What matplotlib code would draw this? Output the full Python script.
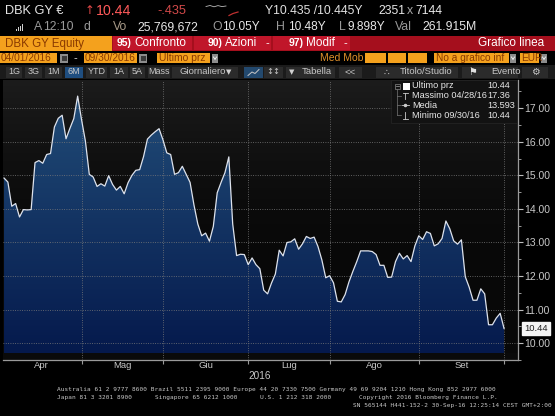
import numpy as np
import matplotlib
matplotlib.use("Agg")
import matplotlib.pyplot as plt
from matplotlib.patches import Rectangle, Polygon
from matplotlib.transforms import blended_transform_factory

# ---------------- data ----------------
month_labels = ["Apr", "Mag", "Giu", "Lug", "Ago", "Set"]
month_days = [21, 21, 22, 21, 23, 22]
prices = [
    14.92, 14.80, 14.08, 14.16, 13.76, 13.98, 13.97, 13.98, 15.38, 15.44,
    15.36, 15.62, 15.65, 16.44, 16.70, 16.79, 16.09, 16.40, 16.69, 17.36,
    16.66, 16.02, 15.03, 14.95, 14.67, 14.75, 14.68, 14.99, 14.73, 14.56,
    14.67, 14.45, 14.78, 15.00, 15.15, 15.17, 15.56, 16.08, 16.20, 16.30,
    16.39, 16.06, 15.67, 15.62, 15.03, 15.08, 15.27, 15.03, 14.79, 14.12,
    13.55, 13.20, 13.28, 13.04, 13.48, 14.48, 14.79, 15.08, 15.55, 13.55,
    12.61, 12.65, 12.64, 12.34, 12.54, 12.34, 12.22, 11.58, 11.47, 11.79,
    12.06, 12.77, 12.60, 13.00, 13.02, 13.11, 12.80, 12.96, 13.18, 13.12,
    13.16, 12.88, 12.48, 11.95, 12.01, 11.80, 11.25, 11.23, 11.45, 11.83,
    12.14, 12.43, 12.75, 12.75, 12.75, 12.73, 12.64, 12.32, 12.32, 11.96,
    11.97, 12.43, 12.68, 12.51, 12.61, 12.43, 12.90, 13.20, 13.09, 13.32,
    13.27, 12.90, 12.96, 13.12, 13.64, 13.41, 13.05, 12.95, 13.08, 11.98,
    11.67, 11.28, 11.28, 11.62, 11.47, 10.55, 10.55, 10.75, 10.89, 10.44,
]
y_ticks = [10, 11, 12, 13, 14, 15, 16, 17]
y_tick_labels = ["10.00", "11.00", "12.00", "13.00", "14.00", "15.00", "16.00", "17.00"]
year_label = "2016"
legend_labels = ["Ultimo prz", "Massimo 04/28/16", "Media", "Minimo 09/30/16"]
legend_values = ["10.44", "17.36", "13.593", "10.44"]
last_price = 10.44
last_price_label = "10.44"

# ---------------- figure ----------------
W, H = 555, 416
plt.rcParams["font.family"] = ["Liberation Sans", "DejaVu Sans"]
fig = plt.figure(figsize=(W / 100, H / 100), dpi=100, facecolor="black")

L, R, T, B = 3, 518, 80, 360
ax = fig.add_axes([L / W, 1 - B / H, (R - L) / W, (B - T) / H])
ax.set_facecolor("#0a0a0a")

n = len(prices)
x = np.arange(n)
ends = np.cumsum(month_days) - 1
starts = np.r_[-0.5, ends[:-1]]
mids = (starts + ends) / 2.0
xl = (-0.26, n - 1 + 3.6)
yl = (9.70, 17.84)

# background gradient
vv = np.linspace(yl[0], yl[1], 400)
t = np.clip((vv - 12.8) / (yl[1] - 12.8), 0, 1)
g = 0.035 + 0.075 * t ** 1.5
bg = np.repeat(g[:, None, None], 3, axis=2)
ax.imshow(bg, extent=(xl[0], xl[1], yl[0], yl[1]), origin="lower",
          aspect="auto", zorder=0, interpolation="bilinear")

# gradient fill under line
t2 = np.clip((vv - yl[0]) / (17.4 - yl[0]), 0, 1)
top = np.array([0.13, 0.30, 0.47])
bot = np.array([0.02, 0.10, 0.30])
fg = bot[None, :] + (top - bot)[None, :] * t2[:, None]
im = ax.imshow(fg[:, None, :], extent=(xl[0], xl[1], yl[0], yl[1]), origin="lower",
               aspect="auto", zorder=1, interpolation="bilinear")
poly = Polygon(np.column_stack([np.r_[x[0], x, x[-1]], np.r_[yl[0], prices, yl[0]]]),
               closed=True, facecolor="none", edgecolor="none")
ax.add_patch(poly)
im.set_clip_path(poly)

ax.plot(x, prices, color="#dde2ec", lw=0.9, zorder=3)

ax.set_xlim(*xl)
ax.set_ylim(*yl)
ax.set_xticks(ends)
ax.set_yticks(y_ticks)
ax.set_yticklabels(y_tick_labels)
ax.set_yticks(np.arange(9.5, 18.0, 0.5), minor=True)
ax.set_axisbelow(False)
ax.grid(True, which="major", color="#7a7a7a", linestyle=(0, (1, 1.8)), linewidth=0.6)
ax.yaxis.tick_right()
ax.tick_params(axis="y", which="major", length=3.5, width=0.8, colors="#bdbdbd",
               labelsize=7.5, pad=1, direction="out")
ax.tick_params(axis="y", which="minor", length=2, width=0.7, colors="#9a9a9a", direction="out")
ax.tick_params(axis="x", length=3, width=0.8, colors="#9a9a9a", labelbottom=False, direction="out")
for s in ("top", "left"):
    ax.spines[s].set_visible(False)
for s in ("right", "bottom"):
    ax.spines[s].set_color("#9a9a9a")
    ax.spines[s].set_linewidth(0.9)
for lab in ax.get_yticklabels():
    lab.set_color("#c8c8c8")

# ---------------- overlay (pixel coords) ----------------
ov = fig.add_axes([0, 0, 1, 1], zorder=10)
ov.set_xlim(0, W)
ov.set_ylim(H, 0)
ov.axis("off")
ov.patch.set_alpha(0)


def rect(x0, y0, x1, y1, color, ec="none", lw=0.0, z=1):
    ov.add_patch(Rectangle((x0, y0), x1 - x0, y1 - y0, facecolor=color,
                           edgecolor=ec, linewidth=lw, zorder=z))


def txt(xp, yp, s, color="#e8e8e8", size=8, ha="left", fam=None, weight="normal"):
    kw = {}
    if fam:
        kw["family"] = fam
    ov.text(xp, yp, s, color=color, fontsize=size, ha=ha, va="center",
            weight=weight, zorder=5, **kw)


# month labels & year
tr = blended_transform_factory(ax.transData, ov.transData)
for m, lab in zip(mids, month_labels):
    ax.text(m, 366, lab, transform=tr, color="#c8c8c8", fontsize=6.8,
            ha="center", va="center", clip_on=False)
ax.text((xl[0] + ends[-1]) / 2 + 1.5, 376, year_label, transform=tr, color="#c8c8c8",
        fontsize=7.2, ha="center", va="center", clip_on=False)

# ---- header row 1 ----
txt(5, 11, "DBK GY \u20ac", "#e6e6e6", 9.2)
txt(85, 11, "\u2191", "#e04848", 8.5, fam="DejaVu Sans")
txt(96, 11, "10.44", "#ff5a5a", 10.2)
txt(157, 11, "-.435", "#d44a4a", 9.2)
ov.plot([206, 210, 214, 218, 222, 226], [6.5, 5.5, 6.8, 5.6, 6.6, 6.0], color="#bbbbbb", lw=0.6, zorder=5)
ov.plot([229, 233, 238], [15.5, 13.5, 12.0], color="#c03030", lw=0.9, zorder=5)
txt(265, 11, "Y10.435 /10.445Y", "#e0e0e0", 8.8)
txt(378, 11, "2351", "#e8e8e8", 8.8)
txt(407, 11, "x", "#a8a8a8", 8.8)
txt(415, 11, "7144", "#e8e8e8", 8.8)

# ---- header row 2 ----
for i, hgt in enumerate([2, 3.5, 5, 6.5]):
    rect(16 + i * 2, 30.5 - hgt, 17.3 + i * 2, 30.5, "#d0d0d0", z=4)
txt(34, 27, "A", "#9a9a9a", 8.8)
txt(43, 27, "12:10", "#9a9a9a", 8.8)
txt(83, 27, "d", "#9a9a9a", 8.8)
txt(113, 27, "Vo", "#a89a88", 8.8)
txt(137, 27, "25,769,672", "#e8e8e8", 8.8)
txt(212, 27, "O", "#9a9a9a", 8.8)
txt(222, 27, "10.05Y", "#e8e8e8", 8.6)
txt(276, 27, "H", "#9a9a9a", 8.8)
txt(288, 27, "10.48Y", "#e8e8e8", 8.6)
txt(339, 27, "L", "#9a9a9a", 8.8)
txt(347, 27, "9.898Y", "#e8e8e8", 8.6)
txt(395, 27, "Val", "#9a9a9a", 8.8)
txt(422, 27, "261.915M", "#e8e8e8", 8.8)

# ---- header row 3 (orange / red bar) ----
rect(0, 35.5, 112, 50.5, "#f4a11d")
txt(5, 43.5, "DBK GY Equity", "#8a3a00", 8.3)
rect(112, 35.5, W, 50.5, "#a50f1d")
for x0, x1 in [(113, 192), (194, 271), (273, 350)]:
    rect(x0, 36, x1, 50, "#c0162a")
txt(117, 43, "95)", "#ffffff", 7.5, weight="bold")
txt(134, 43, "Confronto", "#ffffff", 8.5)
txt(208, 43, "90)", "#ffffff", 7.5, weight="bold")
txt(225, 43, "Azioni", "#ffffff", 8.5)
txt(265, 43, "-", "#ffffff", 8)
txt(289, 43, "97)", "#ffffff", 7.5, weight="bold")
txt(306, 43, "Modif", "#ffffff", 8.5)
txt(343, 43, "-", "#ffffff", 8)
txt(544, 43.5, "Grafico linea", "#ffffff", 8.5, ha="right")


# ---- header row 4 ----
def cal(x0):
    rect(x0, 53.5, x0 + 8, 62.5, "#8c8c8c")
    rect(x0 + 1.5, 56, x0 + 6.5, 61, "#3a3a3a")


def dd(x0):
    rect(x0, 53.5, x0 + 6, 62.5, "#8c8c8c")
    ov.plot([x0 + 1.5, x0 + 3, x0 + 4.5], [57, 59.5, 57], color="#ffffff", lw=0.6, zorder=5)


rect(0, 53, 57, 63, "#f4a11d")
txt(1, 58, "04/01/2016", "#8a3a00", 7.3)
cal(60)
txt(73, 58, "-", "#e0e0e0", 8)
rect(84, 53, 137, 63, "#f4a11d")
txt(85, 58, "09/30/2016", "#8a3a00", 7.3)
cal(139)
rect(157, 53, 210, 63, "#f4a11d")
txt(159, 58, "Ultimo prz", "#8a3a00", 7.5)
dd(212)
txt(320, 58, "Med Mob", "#e0902a", 7.5)
for x0, x1 in [(365, 386), (388, 406), (408, 427)]:
    rect(x0, 53, x1, 63, "#f4a11d")
rect(434, 53, 509, 63, "#f4a11d")
txt(436, 58, "No a grafico inf", "#8a3a00", 7.3)
dd(510)
rect(520, 53, 539, 63, "#f4a11d")
txt(521, 58, "EUR", "#8a3a00", 7.3)
dd(541)

# ---- header row 5 (toolbar) ----
rect(0, 65, W, 79, "#1b1b1b")
tool_items = [(6, 22, "1G"), (25, 42, "3G"), (45, 62, "1M"), (65, 83, "6M"), (86, 107, "YTD"),
              (110, 128, "1A"), (130, 145, "5A"), (148, 170, "Mass")]
for x0, x1, s in tool_items:
    rect(x0, 66.5, x1, 77.5, "#1f4e80" if s == "6M" else "#2b2b2b")
    txt((x0 + x1) / 2, 72, s, "#c8c8c8", 6.5, ha="center")
rect(172, 66.5, 238, 77.5, "#2b2b2b")
txt(180, 72, "Giornaliero", "#c8c8c8", 6.8)
txt(229, 72, "\u25bc", "#d0d0d0", 5, ha="center", fam="DejaVu Sans")
rect(244, 66.5, 263, 77.5, "#23496e")
ov.plot([248, 252, 255, 259], [75.5, 72, 73.5, 69.5], color="#c8c8c8", lw=0.7, zorder=5)
rect(264, 66.5, 283, 77.5, "#2b2b2b")
txt(273, 72, "\u2195\u2195", "#c8c8c8", 6, ha="center", fam="DejaVu Sans")
rect(286, 66.5, 335, 77.5, "#2b2b2b")
txt(292, 72, "\u25bc", "#d0d0d0", 5, ha="center", fam="DejaVu Sans")
txt(302, 72, "Tabella", "#c8c8c8", 6.8)
rect(339, 66.5, 362, 77.5, "#2b2b2b")
txt(350, 72, "<<", "#c8c8c8", 6.8, ha="center")
rect(376, 66.5, 458, 77.5, "#2b2b2b")
txt(386, 72, "\u2234", "#c8c8c8", 6.5, ha="center", fam="DejaVu Sans")
txt(400, 72, "Titolo/Studio", "#c8c8c8", 6.8)
rect(462, 66.5, 518, 77.5, "#2b2b2b")
txt(473, 72, "\u2691", "#e0e0e0", 7, ha="center", fam="DejaVu Sans")
txt(491, 72, "Evento", "#c8c8c8", 6.8)
rect(522, 66.5, 548, 77.5, "#2b2b2b")
txt(535, 72, "\u2699", "#c8c8c8", 7, ha="center", fam="DejaVu Sans")

# ---- legend box ----
rect(391, 80, 517, 123, "#121212", ec="#262626", lw=0.5, z=3)
row_y = [86, 95.7, 105.3, 115.3]
ov.plot([397, 397], [89, row_y[3]], color="#777777", lw=0.5, zorder=4)
rect(394.5, 83.5, 399.5, 88.5, "#121212", ec="#888888", lw=0.5, z=4)
ov.plot([395.5, 398.5], [86, 86], color="#aaaaaa", lw=0.5, zorder=5)
rect(403, 82.5, 409.5, 89.5, "#ffffff", z=4)
for yy in row_y[1:]:
    ov.plot([397, 401], [yy, yy], color="#777777", lw=0.5, zorder=4)
ov.plot([405, 405], [92.5, 99], color="#cccccc", lw=0.6, zorder=5)
ov.plot([402.5, 407.5], [92.5, 92.5], color="#cccccc", lw=0.6, zorder=5)
ov.plot([401.5, 408.5], [105.3, 105.3], color="#cccccc", lw=0.6, zorder=5)
ov.plot([405], [105.3], marker="o", ms=1.5, color="#cccccc", zorder=5)
ov.plot([405, 405], [112, 118.5], color="#cccccc", lw=0.6, zorder=5)
ov.plot([402.5, 407.5], [118.5, 118.5], color="#cccccc", lw=0.6, zorder=5)
for yy, lab, val in zip(row_y, legend_labels, legend_values):
    txt(412, yy, lab, "#e8e8e8", 6.6)
    txt(487, yy, val, "#e8e8e8", 6.6)

# ---- last price tag ----
ax.annotate(last_price_label, xy=(1.0, last_price), xycoords=("axes fraction", "data"),
            xytext=(4.5, 0), textcoords="offset points", color="#202020", fontsize=6.8,
            va="center", ha="left", annotation_clip=False, zorder=12,
            bbox=dict(boxstyle="square,pad=0.2", facecolor="#f4f4f4", edgecolor="#f4f4f4"))

# ---- footer ----
mono = "DejaVu Sans Mono"
txt(57, 390, "Australia 61 2 9777 8600 Brazil 5511 2395 9000 Europe 44 20 7330 7500 "
    "Germany 49 69 9204 1210 Hong Kong 852 2977 6000", "#c8c8c8", 4.4, fam=mono)
txt(57, 397.5, "Japan 81 3 3201 8900", "#c8c8c8", 4.4, fam=mono)
txt(155, 397.5, "Singapore 65 6212 1000", "#c8c8c8", 4.4, fam=mono)
txt(260, 397.5, "U.S. 1 212 318 2000", "#c8c8c8", 4.4, fam=mono)
txt(359, 397.5, "Copyright 2016 Bloomberg Finance L.P.", "#c8c8c8", 4.4, fam=mono)
txt(552, 405.5, "SN 565144 H441-152-2 30-Sep-16 12:25:14 CEST GMT+2:00", "#c8c8c8", 4.4,
    ha="right", fam=mono)

fig.savefig("out.png", dpi=100, facecolor="black")
